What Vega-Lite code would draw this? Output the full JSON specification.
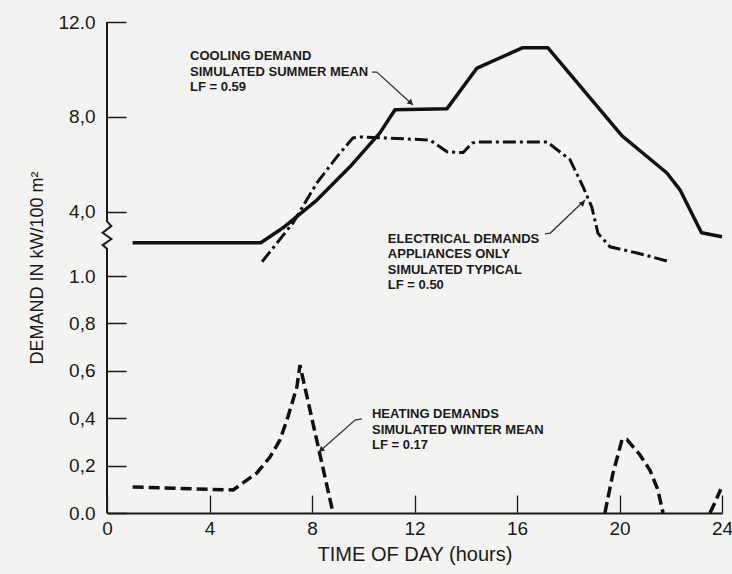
{
  "$schema": "https://vega.github.io/schema/vega-lite/v6.json",
  "width": 615,
  "height": 491,
  "autosize": {"type": "none"},
  "padding": {"left": 107, "top": 22, "right": 10, "bottom": 61},
  "background": "#f3f3f1",
  "config": {"view": {"stroke": null}, "font": "Liberation Sans"},
  "datasets": {
    "curves": [
      {"series": "cooling", "seg": "c", "hour": 1.0, "value": 2.7},
      {"series": "cooling", "seg": "c", "hour": 6.0, "value": 2.7},
      {"series": "cooling", "seg": "c", "hour": 6.87, "value": 3.33},
      {"series": "cooling", "seg": "c", "hour": 8.19, "value": 4.5},
      {"series": "cooling", "seg": "c", "hour": 9.48, "value": 5.9},
      {"series": "cooling", "seg": "c", "hour": 10.65, "value": 7.33},
      {"series": "cooling", "seg": "c", "hour": 11.24, "value": 8.3},
      {"series": "cooling", "seg": "c", "hour": 13.27, "value": 8.35},
      {"series": "cooling", "seg": "c", "hour": 14.44, "value": 10.06},
      {"series": "cooling", "seg": "c", "hour": 16.23, "value": 10.92},
      {"series": "cooling", "seg": "c", "hour": 17.2, "value": 10.92},
      {"series": "cooling", "seg": "c", "hour": 20.1, "value": 7.2},
      {"series": "cooling", "seg": "c", "hour": 21.85, "value": 5.64},
      {"series": "cooling", "seg": "c", "hour": 22.36, "value": 4.93},
      {"series": "cooling", "seg": "c", "hour": 23.2, "value": 3.12},
      {"series": "cooling", "seg": "c", "hour": 24.0, "value": 2.95},
      {"series": "electrical", "seg": "e", "hour": 6.05, "value": 1.9},
      {"series": "electrical", "seg": "e", "hour": 7.26, "value": 3.54},
      {"series": "electrical", "seg": "e", "hour": 8.19, "value": 5.22},
      {"series": "electrical", "seg": "e", "hour": 8.97, "value": 6.32},
      {"series": "electrical", "seg": "e", "hour": 9.6, "value": 7.12},
      {"series": "electrical", "seg": "e", "hour": 9.87, "value": 7.16},
      {"series": "electrical", "seg": "e", "hour": 12.6, "value": 7.03},
      {"series": "electrical", "seg": "e", "hour": 13.27, "value": 6.53},
      {"series": "electrical", "seg": "e", "hour": 13.9, "value": 6.5},
      {"series": "electrical", "seg": "e", "hour": 14.25, "value": 6.9},
      {"series": "electrical", "seg": "e", "hour": 14.44, "value": 6.95},
      {"series": "electrical", "seg": "e", "hour": 17.17, "value": 6.95},
      {"series": "electrical", "seg": "e", "hour": 18.07, "value": 6.2},
      {"series": "electrical", "seg": "e", "hour": 18.58, "value": 5.05},
      {"series": "electrical", "seg": "e", "hour": 18.92, "value": 4.2},
      {"series": "electrical", "seg": "e", "hour": 19.16, "value": 3.1},
      {"series": "electrical", "seg": "e", "hour": 19.63, "value": 2.53},
      {"series": "electrical", "seg": "e", "hour": 20.68, "value": 2.27},
      {"series": "electrical", "seg": "e", "hour": 21.97, "value": 1.9},
      {"series": "heating", "seg": "h1", "hour": 1.0, "value": 0.11},
      {"series": "heating", "seg": "h1", "hour": 4.92, "value": 0.097},
      {"series": "heating", "seg": "h1", "hour": 5.31, "value": 0.127},
      {"series": "heating", "seg": "h1", "hour": 5.85, "value": 0.169},
      {"series": "heating", "seg": "h1", "hour": 6.36, "value": 0.236},
      {"series": "heating", "seg": "h1", "hour": 6.75, "value": 0.308},
      {"series": "heating", "seg": "h1", "hour": 7.06, "value": 0.405},
      {"series": "heating", "seg": "h1", "hour": 7.41, "value": 0.532},
      {"series": "heating", "seg": "h1", "hour": 7.53, "value": 0.624},
      {"series": "heating", "seg": "h1", "hour": 8.82, "value": 0.0},
      {"series": "heating", "seg": "h2", "hour": 19.43, "value": 0.0},
      {"series": "heating", "seg": "h2", "hour": 19.74, "value": 0.165},
      {"series": "heating", "seg": "h2", "hour": 20.1, "value": 0.31},
      {"series": "heating", "seg": "h2", "hour": 20.29, "value": 0.31},
      {"series": "heating", "seg": "h2", "hour": 20.8, "value": 0.245},
      {"series": "heating", "seg": "h2", "hour": 21.19, "value": 0.18},
      {"series": "heating", "seg": "h2", "hour": 21.5, "value": 0.097},
      {"series": "heating", "seg": "h2", "hour": 21.7, "value": 0.0},
      {"series": "heating", "seg": "h3", "hour": 23.53, "value": 0.0},
      {"series": "heating", "seg": "h3", "hour": 23.75, "value": 0.05},
      {"series": "heating", "seg": "h3", "hour": 23.95, "value": 0.1}
    ],
    "axisline": [
      {"i": 0, "hour": 0, "value": 12},
      {"i": 1, "hour": 0, "value": 3.6},
      {"i": 2, "hour": 0.17, "value": 3.4},
      {"i": 3, "hour": -0.17, "value": 3.12},
      {"i": 4, "hour": 0.17, "value": 2.86},
      {"i": 5, "hour": -0.17, "value": 2.6},
      {"i": 6, "hour": 0, "value": 2.45},
      {"i": 7, "hour": 0, "value": 0}
    ],
    "leaders": [
      {"which": "c", "i": 0, "hour": 10.34, "value": 9.89},
      {"which": "c", "i": 1, "hour": 10.53, "value": 9.89},
      {"which": "c", "i": 2, "hour": 11.94, "value": 8.5},
      {"which": "e", "i": 0, "hour": 17.09, "value": 3.07},
      {"which": "e", "i": 1, "hour": 17.3, "value": 3.11},
      {"which": "e", "i": 2, "hour": 18.65, "value": 4.5},
      {"which": "h", "i": 0, "hour": 9.95, "value": 0.397},
      {"which": "h", "i": 1, "hour": 9.68, "value": 0.392},
      {"which": "h", "i": 2, "hour": 8.27, "value": 0.257}
    ],
    "arrows": [
      {"which": "c", "hour": 11.86, "value": 8.59},
      {"which": "e", "hour": 18.57, "value": 4.38},
      {"which": "h", "hour": 8.35, "value": 0.266}
    ],
    "notes": [
      {"hour": 3.24, "value": 10.82, "label": "COOLING DEMAND\nSIMULATED SUMMER MEAN\nLF = 0.59"},
      {"hour": 10.96, "value": 3.13, "label": "ELECTRICAL DEMANDS\nAPPLIANCES ONLY\nSIMULATED TYPICAL\nLF = 0.50"},
      {"hour": 10.34, "value": 0.441, "label": "HEATING DEMANDS\nSIMULATED WINTER MEAN\nLF = 0.17"}
    ]
  },
  "encoding": {
    "x": {
      "field": "hour",
      "type": "quantitative",
      "scale": {"domain": [0, 24], "nice": false, "zero": false},
      "axis": {
        "values": [0, 4, 8, 12, 16, 20, 24],
        "grid": false,
        "domainColor": "#1a1a1a",
        "domainWidth": 2,
        "tickSize": -18,
        "tickWidth": 1.3,
        "tickColor": "#1a1a1a",
        "labelPadding": 24,
        "labelFontSize": 19,
        "labelColor": "#1a1a1a",
        "labelFlush": false,
        "labelOverlap": false,
        "title": "TIME OF DAY (hours)",
        "titleFontSize": 20,
        "titleFontWeight": "normal",
        "titleColor": "#1a1a1a",
        "titlePadding": 6
      }
    },
    "y": {
      "field": "value",
      "type": "quantitative",
      "scale": {"domain": [0, 1, 1.3, 12], "range": [491, 254, 254, 0], "nice": false, "zero": false},
      "axis": {
        "values": [0, 0.2, 0.4, 0.6, 0.8, 1, 4, 8, 12],
        "grid": false,
        "domain": false,
        "tickSize": -19,
        "tickWidth": 1.5,
        "tickColor": "#1a1a1a",
        "labelPadding": 31,
        "labelFontSize": 19,
        "labelColor": "#1a1a1a",
        "labelOverlap": false,
        "labelFlush": false,
        "labelExpr": "datum.value == 12 || datum.value == 1 || datum.value == 0 ? format(datum.value, '.1f') : replace(format(datum.value, '.1f'), '.', ',')",
        "title": "DEMAND IN kW/100 m²",
        "titleFontSize": 18,
        "titleFontWeight": "normal",
        "titleColor": "#1a1a1a",
        "titlePadding": 12
      }
    }
  },
  "layer": [
    {
      "data": {"name": "axisline"},
      "mark": {"type": "line", "color": "#1a1a1a", "strokeWidth": 2},
      "encoding": {"order": {"field": "i", "type": "quantitative"}}
    },
    {
      "data": {"name": "curves"},
      "transform": [{"filter": "datum.series == 'cooling'"}],
      "mark": {"type": "line", "color": "#111111", "strokeWidth": 3.5, "strokeJoin": "round"},
      "encoding": {}
    },
    {
      "data": {"name": "curves"},
      "transform": [{"filter": "datum.series == 'electrical'"}],
      "mark": {"type": "line", "color": "#111111", "strokeWidth": 3, "strokeDash": [13, 4, 3, 4]},
      "encoding": {}
    },
    {
      "data": {"name": "curves"},
      "transform": [{"filter": "datum.series == 'heating'"}],
      "mark": {"type": "line", "color": "#111111", "strokeWidth": 3.5, "strokeDash": [11, 5]},
      "encoding": {"detail": {"field": "seg", "type": "nominal"}}
    },
    {
      "data": {"name": "leaders"},
      "mark": {"type": "line", "color": "#333333", "strokeWidth": 1.3},
      "encoding": {
        "detail": {"field": "which", "type": "nominal"},
        "order": {"field": "i", "type": "quantitative"}
      }
    },
    {
      "data": {"name": "arrows"},
      "transform": [{"filter": "datum.which == 'c'"}],
      "mark": {"type": "point", "shape": "triangle-up", "filled": true, "size": 40, "angle": 132.5, "color": "#222222", "opacity": 1},
      "encoding": {}
    },
    {
      "data": {"name": "arrows"},
      "transform": [{"filter": "datum.which == 'e'"}],
      "mark": {"type": "point", "shape": "triangle-up", "filled": true, "size": 40, "angle": 46.7, "color": "#222222", "opacity": 1},
      "encoding": {}
    },
    {
      "data": {"name": "arrows"},
      "transform": [{"filter": "datum.which == 'h'"}],
      "mark": {"type": "point", "shape": "triangle-up", "filled": true, "size": 40, "angle": 228.4, "color": "#222222", "opacity": 1},
      "encoding": {}
    },
    {
      "data": {"name": "notes"},
      "mark": {"type": "text", "align": "left", "baseline": "top", "fontSize": 13, "fontWeight": "bold", "lineBreak": "\n", "lineHeight": 15.5, "color": "#1a1a1a"},
      "encoding": {"text": {"field": "label", "type": "nominal"}}
    }
  ]
}
